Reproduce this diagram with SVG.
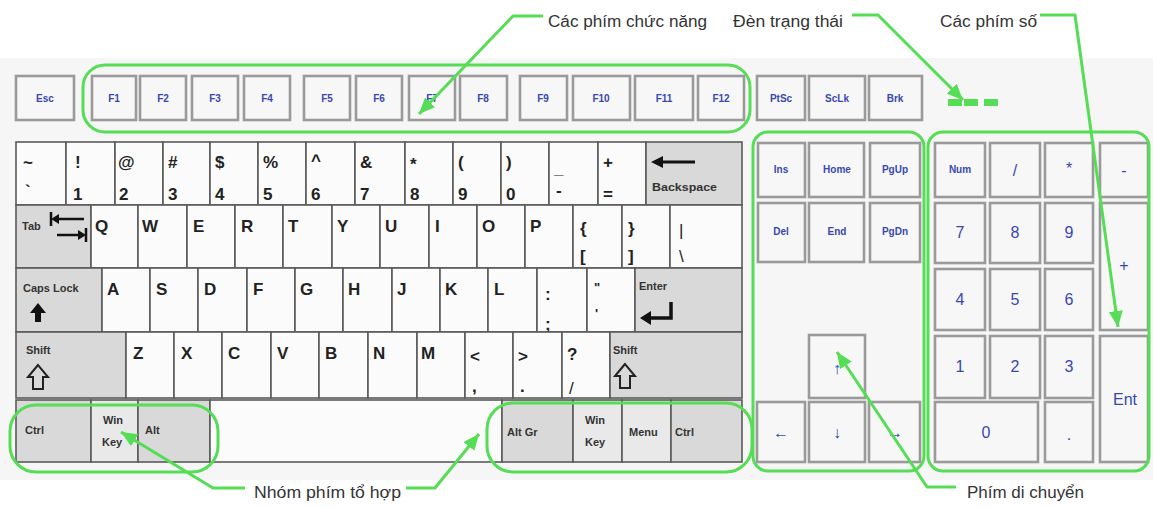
<svg xmlns="http://www.w3.org/2000/svg" width="1153" height="507" viewBox="0 0 1153 507">
<style>
.bg{fill:#f6f6f6}
.k{fill:#fbfbfb;stroke:#5a5a5a;stroke-width:1.6}
.m{fill:#d9d9d9;stroke:#5a5a5a;stroke-width:1.6}
.ml{fill:#e9e9e9;stroke:#5a5a5a;stroke-width:1.6}
.b{fill:#f7f7f7;stroke:#9a9a9a;stroke-width:2.6}
.grp{fill:none;stroke:#55dd55;stroke-width:3}
.con{fill:none;stroke:#55dd55;stroke-width:3;stroke-linejoin:round}
.t{font-family:"Liberation Sans",Arial,sans-serif;font-weight:bold;font-size:17px;fill:#222}
.s{font-family:"Liberation Sans",Arial,sans-serif;font-weight:bold;font-size:11px;fill:#333}
.bl{font-family:"Liberation Sans",Arial,sans-serif;font-size:10px;font-weight:bold;fill:#3848b0;text-anchor:middle}
.nd{font-family:"Liberation Sans",Arial,sans-serif;font-size:16px;fill:#3848b0;text-anchor:middle}
.lab{font-family:"Liberation Sans",Arial,sans-serif;font-size:16px;fill:#333}
.ic{fill:none;stroke:#111}
</style>
<defs>
<marker id="ah" markerUnits="userSpaceOnUse" markerWidth="18" markerHeight="16" refX="16" refY="7" orient="auto">
<path d="M0,0 L16,7 L0,14 Z" fill="#55dd55"/>
</marker>
</defs>
<rect class="bg" x="0" y="58" width="1153" height="422"/>

<!-- function row -->
<g id="fkeys">
<rect class="b" x="16" y="76" width="58" height="44"/><text class="bl" x="45" y="102">Esc</text>
<rect class="b" x="92" y="76" width="44" height="44"/><text class="bl" x="114" y="102">F1</text>
<rect class="b" x="140" y="76" width="46" height="44"/><text class="bl" x="163" y="102">F2</text>
<rect class="b" x="192" y="76" width="46" height="44"/><text class="bl" x="215" y="102">F3</text>
<rect class="b" x="244" y="76" width="46" height="44"/><text class="bl" x="267" y="102">F4</text>
<rect class="b" x="304" y="76" width="46" height="44"/><text class="bl" x="327" y="102">F5</text>
<rect class="b" x="356" y="76" width="46" height="44"/><text class="bl" x="379" y="102">F6</text>
<rect class="b" x="409" y="76" width="46" height="44"/><text class="bl" x="432" y="102">F7</text>
<rect class="b" x="460" y="76" width="47" height="44"/><text class="bl" x="483" y="102">F8</text>
<rect class="b" x="520" y="76" width="47" height="44"/><text class="bl" x="543" y="102">F9</text>
<rect class="b" x="573" y="76" width="57" height="44"/><text class="bl" x="601" y="102">F10</text>
<rect class="b" x="635" y="76" width="58" height="44"/><text class="bl" x="664" y="102">F11</text>
<rect class="b" x="698" y="76" width="46" height="44"/><text class="bl" x="721" y="102">F12</text>
<rect class="b" x="757" y="76" width="48" height="44"/><text class="bl" x="781" y="102">PtSc</text>
<rect class="b" x="809" y="76" width="56" height="44"/><text class="bl" x="837" y="102">ScLk</text>
<rect class="b" x="869" y="76" width="53" height="44"/><text class="bl" x="895" y="102">Brk</text>
</g>
<g id="lights" fill="#55dd55">
<rect x="948" y="99" width="14" height="7"/><rect x="964" y="99" width="14" height="7"/><rect x="984" y="99" width="14" height="7"/>
</g>

<!-- main keyboard -->
<g id="main">
<!-- row 1 -->
<rect class="k" x="16" y="142" width="50" height="63"/>
<rect class="k" x="66" y="142" width="49" height="63"/>
<rect class="k" x="115" y="142" width="48" height="63"/>
<rect class="k" x="163" y="142" width="47" height="63"/>
<rect class="k" x="210" y="142" width="48" height="63"/>
<rect class="k" x="258" y="142" width="48" height="63"/>
<rect class="k" x="306" y="142" width="49" height="63"/>
<rect class="k" x="355" y="142" width="50" height="63"/>
<rect class="k" x="405" y="142" width="48" height="63"/>
<rect class="k" x="453" y="142" width="48" height="63"/>
<rect class="k" x="501" y="142" width="48" height="63"/>
<rect class="k" x="549" y="142" width="49" height="63"/>
<rect class="k" x="598" y="142" width="48" height="63"/>
<rect class="m" x="646" y="142" width="96" height="63"/>
<g class="t">
<text x="23" y="168">~</text><text x="25" y="197">`</text>
<text x="75" y="168">!</text><text x="73" y="200">1</text>
<text x="118" y="168">@</text><text x="119" y="200">2</text>
<text x="168" y="168">#</text><text x="168" y="200">3</text>
<text x="215" y="168">$</text><text x="215" y="200">4</text>
<text x="263" y="168">%</text><text x="263" y="200">5</text>
<text x="311" y="166">^</text><text x="311" y="200">6</text>
<text x="360" y="168">&amp;</text><text x="360" y="200">7</text>
<text x="410" y="170">*</text><text x="410" y="200">8</text>
<text x="458" y="168">(</text><text x="458" y="200">9</text>
<text x="506" y="168">)</text><text x="506" y="200">0</text>
<text x="554" y="174">_</text><text x="556" y="196">-</text>
<text x="603" y="168">+</text><text x="603" y="200">=</text>
</g>
<path class="ic" d="M660,162 H695" stroke-width="3"/>
<path d="M651,162 L663,156 L663,168 Z" fill="#111"/>
<text class="s" x="652" y="191" font-size="10" textLength="65" lengthAdjust="spacingAndGlyphs">Backspace</text>

<!-- row 2 -->
<rect class="m" x="16" y="205" width="75" height="63"/>
<rect class="k" x="91" y="205" width="47" height="63"/>
<rect class="k" x="138" y="205" width="49" height="63"/>
<rect class="k" x="187" y="205" width="48" height="63"/>
<rect class="k" x="235" y="205" width="48" height="63"/>
<rect class="k" x="283" y="205" width="49" height="63"/>
<rect class="k" x="332" y="205" width="48" height="63"/>
<rect class="k" x="380" y="205" width="49" height="63"/>
<rect class="k" x="429" y="205" width="48" height="63"/>
<rect class="k" x="477" y="205" width="48" height="63"/>
<rect class="k" x="525" y="205" width="48" height="63"/>
<rect class="k" x="573" y="205" width="49" height="63"/>
<rect class="k" x="622" y="205" width="48" height="63"/>
<rect class="k" x="670" y="205" width="72" height="63"/>
<g class="t">
<text x="95" y="232">Q</text><text x="142" y="232">W</text><text x="193" y="232">E</text>
<text x="241" y="232">R</text><text x="288" y="232">T</text><text x="337" y="232">Y</text>
<text x="385" y="232">U</text><text x="435" y="232">I</text><text x="482" y="232">O</text>
<text x="530" y="232">P</text>
<text x="580" y="234">{</text><text x="580" y="262">[</text>
<text x="628" y="234">}</text><text x="628" y="262">]</text>
<text x="679" y="236" font-weight="normal">|</text><text x="679" y="262" font-weight="normal">\</text>
</g>
<text class="s" x="22" y="230" font-size="9" font-weight="normal">Tab</text>
<path class="ic" d="M57,219 H84 M51,226 V212 M57,235 H80 M86,242 V228" stroke-width="2.5"/>
<path d="M51,219 L59,214 L59,224 Z M86,235 L78,230 L78,240 Z" fill="#111"/>

<!-- row 3 -->
<rect class="m" x="16" y="268" width="86" height="64"/>
<rect class="k" x="102" y="268" width="48" height="64"/>
<rect class="k" x="150" y="268" width="48" height="64"/>
<rect class="k" x="198" y="268" width="49" height="64"/>
<rect class="k" x="247" y="268" width="48" height="64"/>
<rect class="k" x="295" y="268" width="48" height="64"/>
<rect class="k" x="343" y="268" width="49" height="64"/>
<rect class="k" x="392" y="268" width="48" height="64"/>
<rect class="k" x="440" y="268" width="48" height="64"/>
<rect class="k" x="488" y="268" width="49" height="64"/>
<rect class="k" x="537" y="268" width="50" height="64"/>
<rect class="k" x="587" y="268" width="48" height="64"/>
<rect class="m" x="635" y="268" width="107" height="64"/>
<g class="t">
<text x="107" y="295">A</text><text x="156" y="295">S</text><text x="204" y="295">D</text>
<text x="253" y="295">F</text><text x="300" y="295">G</text><text x="348" y="295">H</text>
<text x="397" y="295">J</text><text x="445" y="295">K</text><text x="494" y="295">L</text>
<text x="545" y="300">:</text><text x="545" y="330">;</text>
<text x="594" y="292" font-size="13">"</text><text x="595" y="318" font-size="13">'</text>
</g>
<text class="s" x="23" y="292" font-size="12">Caps Lock</text>
<path d="M38,303 L30,313 L35,313 L35,322 L41,322 L41,313 L46,313 Z" fill="#111"/>
<text class="s" x="639" y="290" font-size="9">Enter</text>
<path class="ic" d="M671,302 V318 H648" stroke-width="3.5"/>
<path d="M640,318 L651,311 L651,325 Z" fill="#111"/>

<!-- row 4 -->
<rect class="m" x="16" y="332" width="110" height="66"/>
<rect class="k" x="126" y="332" width="48" height="66"/>
<rect class="k" x="174" y="332" width="48" height="66"/>
<rect class="k" x="222" y="332" width="49" height="66"/>
<rect class="k" x="271" y="332" width="48" height="66"/>
<rect class="k" x="319" y="332" width="49" height="66"/>
<rect class="k" x="368" y="332" width="49" height="66"/>
<rect class="k" x="417" y="332" width="48" height="66"/>
<rect class="k" x="465" y="332" width="48" height="66"/>
<rect class="k" x="513" y="332" width="49" height="66"/>
<rect class="k" x="562" y="332" width="48" height="66"/>
<rect class="m" x="610" y="332" width="132" height="66"/>
<g class="t">
<text x="133" y="359">Z</text><text x="181" y="359">X</text><text x="228" y="359">C</text>
<text x="277" y="359">V</text><text x="325" y="359">B</text><text x="373" y="359">N</text>
<text x="421" y="359">M</text>
<text x="470" y="362">&lt;</text><text x="472" y="392">,</text>
<text x="518" y="362">&gt;</text><text x="520" y="392">.</text>
<text x="567" y="360">?</text><text x="569" y="394" font-weight="normal">/</text>
</g>
<text class="s" x="26" y="354" font-size="11">Shift</text>
<path d="M38,365 L28,377 L33,377 L33,389 L43,389 L43,377 L48,377 Z" fill="none" stroke="#222" stroke-width="2"/>
<text class="s" x="613" y="354" font-size="11">Shift</text>
<path d="M625,364 L615,376 L620,376 L620,388 L630,388 L630,376 L635,376 Z" fill="none" stroke="#222" stroke-width="2"/>

<!-- row 5 -->
<rect class="m" x="16" y="400" width="75" height="62"/>
<rect class="ml" x="91" y="400" width="47" height="62"/>
<rect class="m" x="138" y="400" width="72" height="62"/>
<rect class="k" x="210" y="400" width="292" height="62"/>
<rect class="m" x="502" y="400" width="71" height="62"/>
<rect class="ml" x="573" y="400" width="49" height="62"/>
<rect class="ml" x="622" y="400" width="49" height="62"/>
<rect class="m" x="671" y="400" width="71" height="62"/>
<g class="s" font-size="10">
<text x="25" y="434">Ctrl</text>
<text x="103" y="424">Win</text><text x="102" y="446">Key</text>
<text x="145" y="434">Alt</text>
<text x="507" y="436">Alt Gr</text>
<text x="585" y="424">Win</text><text x="585" y="446">Key</text>
<text x="629" y="436">Menu</text>
<text x="675" y="436">Ctrl</text>
</g>
</g>

<!-- navigation keys -->
<g id="nav">
<rect class="b" x="758" y="143" width="47" height="54"/><text class="bl" x="781" y="173">Ins</text>
<rect class="b" x="809" y="143" width="55" height="54"/><text class="bl" x="837" y="173">Home</text>
<rect class="b" x="870" y="143" width="50" height="54"/><text class="bl" x="895" y="173">PgUp</text>
<rect class="b" x="758" y="203" width="47" height="59"/><text class="bl" x="781" y="235">Del</text>
<rect class="b" x="809" y="203" width="55" height="59"/><text class="bl" x="837" y="235">End</text>
<rect class="b" x="870" y="203" width="50" height="59"/><text class="bl" x="895" y="235">PgDn</text>
<rect class="b" x="809" y="335" width="56" height="63"/><text class="nd" x="837" y="374" fill="#222" font-size="16">↑</text>
<rect class="b" x="757" y="402" width="48" height="60"/><text class="nd" x="781" y="438" font-size="15" font-family="DejaVu Sans">←</text>
<rect class="b" x="809" y="402" width="56" height="60"/><text class="nd" x="837" y="438" fill="#222" font-size="16">↓</text>
<rect class="b" x="869" y="402" width="51" height="60"/><text class="nd" x="895" y="438" font-size="15" font-family="DejaVu Sans">→</text>
</g>

<!-- numeric keypad -->
<g id="numpad">
<rect class="b" x="935" y="143" width="50" height="54"/><text class="bl" x="960" y="173">Num</text>
<rect class="b" x="990" y="143" width="50" height="54"/><text class="nd" x="1015" y="176">/</text>
<rect class="b" x="1045" y="143" width="48" height="54"/><text class="nd" x="1069" y="174" font-size="12">*</text>
<rect class="b" x="1100" y="143" width="48" height="54"/><text class="nd" x="1124" y="176">-</text>
<rect class="b" x="935" y="203" width="50" height="60"/><text class="nd" x="960" y="238">7</text>
<rect class="b" x="990" y="203" width="50" height="60"/><text class="nd" x="1015" y="238">8</text>
<rect class="b" x="1045" y="203" width="48" height="60"/><text class="nd" x="1069" y="238">9</text>
<rect class="b" x="1100" y="203" width="48" height="127"/><text class="nd" x="1124" y="271" font-size="13">+</text>
<rect class="b" x="935" y="269" width="50" height="61"/><text class="nd" x="960" y="305">4</text>
<rect class="b" x="990" y="269" width="50" height="61"/><text class="nd" x="1015" y="305">5</text>
<rect class="b" x="1045" y="269" width="48" height="61"/><text class="nd" x="1069" y="305">6</text>
<rect class="b" x="935" y="336" width="50" height="62"/><text class="nd" x="960" y="372">1</text>
<rect class="b" x="990" y="336" width="50" height="62"/><text class="nd" x="1015" y="372">2</text>
<rect class="b" x="1045" y="336" width="48" height="62"/><text class="nd" x="1069" y="372">3</text>
<rect class="b" x="1100" y="336" width="48" height="126"/><text class="nd" x="1125" y="405" font-size="15">Ent</text>
<rect class="b" x="935" y="402" width="103" height="60"/><text class="nd" x="986" y="438">0</text>
<rect class="b" x="1045" y="402" width="48" height="60"/><text class="nd" x="1069" y="440" fill="#999">.</text>
</g>

<!-- group outlines -->
<g id="groups">
<rect class="grp" x="83" y="65" width="667" height="67" rx="22"/>
<rect class="grp" x="753" y="132" width="171" height="339" rx="15"/>
<rect class="grp" x="928" y="132" width="221" height="339" rx="15"/>
<rect class="grp" x="10" y="405" width="208" height="67" rx="26"/>
<rect class="grp" x="487" y="403" width="265" height="69" rx="26"/>
</g>

<!-- labels -->
<g id="labels" class="lab">
<text x="548" y="27" textLength="159" lengthAdjust="spacingAndGlyphs">Các phím chức năng</text>
<text x="733" y="27" textLength="110" lengthAdjust="spacingAndGlyphs">Đèn trạng thái</text>
<text x="940" y="27" textLength="97" lengthAdjust="spacingAndGlyphs">Các phím số</text>
<text x="254" y="498" textLength="147" lengthAdjust="spacingAndGlyphs">Nhóm phím tổ hợp</text>
<text x="967" y="498" textLength="117" lengthAdjust="spacingAndGlyphs">Phím di chuyển</text>
</g>

<!-- connectors -->
<g id="connectors">
<path class="con" d="M543,16 L513,16 L419,114" marker-end="url(#ah)"/>
<path class="con" d="M852,15 L878,15 L963,100" marker-end="url(#ah)"/>
<path class="con" d="M1040,15 L1075,15 L1118,327" marker-end="url(#ah)"/>
<path class="con" d="M245,488 L213,488 L121,432" marker-end="url(#ah)"/>
<path class="con" d="M406,488 L435,488 L479,434" marker-end="url(#ah)"/>
<path class="con" d="M956,487 L927,487 L837,352" marker-end="url(#ah)"/>
</g>
</svg>
